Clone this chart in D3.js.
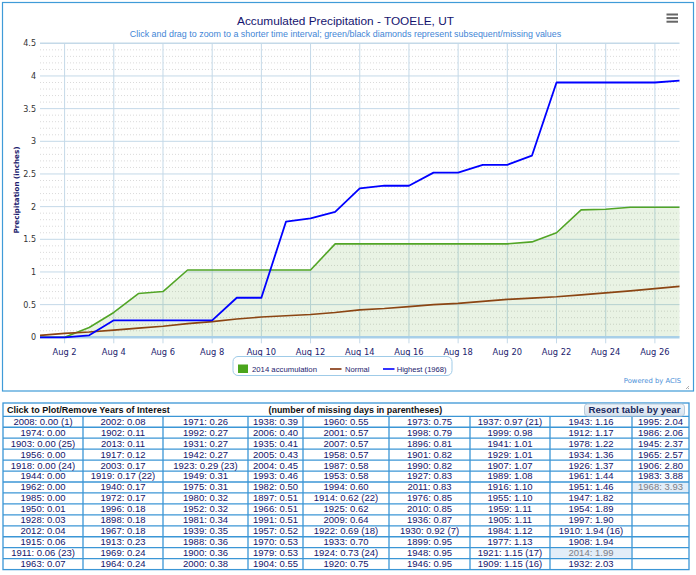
<!DOCTYPE html>
<html><head><meta charset="utf-8">
<script src="https://cdn.jsdelivr.net/npm/d3@7"></script>
<style>
html,body{margin:0;padding:0;background:#fff;}
svg{display:block;}
</style></head>
<body>
<svg id="c" width="696" height="575"></svg>
<script>
// ---------- data ----------
const days = [1,2,3,4,5,6,7,8,9,10,11,12,13,14,15,16,17,18,19,20,21,22,23,24,25,26,27];
const acc2014 = [0,0,0.15,0.38,0.67,0.70,1.03,1.03,1.03,1.03,1.03,1.03,1.43,1.43,1.43,1.43,1.43,1.43,1.43,1.43,1.46,1.60,1.95,1.96,1.99,1.99,1.99];
const normal = [0.03,0.06,0.08,0.11,0.14,0.17,0.21,0.24,0.28,0.31,0.33,0.35,0.38,0.42,0.44,0.47,0.50,0.52,0.55,0.58,0.60,0.62,0.65,0.68,0.71,0.745,0.78];
const highest1968 = [0,0,0.03,0.26,0.26,0.26,0.26,0.26,0.605,0.605,1.77,1.82,1.92,2.28,2.32,2.32,2.52,2.52,2.64,2.64,2.78,3.90,3.90,3.90,3.90,3.90,3.93];
const xTickDays = [2,4,6,8,10,12,14,16,18,20,22,24,26];
const yTicks = [0,0.5,1,1.5,2,2.5,3,3.5,4,4.5];
const legendLabels = ["2014 accumulation","Normal","Highest (1968)"];

const tableYears = [2008,1974,1903,1956,1918,1944,1962,1985,1950,1928,2012,1915,1911,1963,
2002,1902,2013,1917,2003,1919,1940,1972,1996,1898,1967,1913,1969,1964,
1971,1992,1931,1942,1923,1949,1975,1980,1952,1981,1939,1988,1900,2000,
1938,2006,1935,2005,2004,1993,1982,1897,1966,1991,1957,1970,1979,1904,
1960,2001,2007,1958,1987,1953,1994,1914,1925,2009,1922,1933,1924,1920,
1973,1998,1896,1901,1990,1927,2011,1976,2010,1936,1930,1899,1948,1946,
1937,1999,1941,1929,1907,1989,1916,1955,1959,1905,1984,1977,1921,1909,
1943,1912,1978,1934,1926,1961,1951,1947,1954,1997,1910,1908,2014,1932,
1995,1986,1945,1965,1906,1983,1968];
const tableTotals = [0.00,0.00,0.00,0.00,0.00,0.00,0.00,0.00,0.01,0.03,0.04,0.06,0.06,0.07,
0.08,0.11,0.11,0.12,0.17,0.17,0.17,0.17,0.18,0.18,0.18,0.23,0.24,0.24,
0.26,0.27,0.27,0.27,0.29,0.31,0.31,0.32,0.32,0.34,0.35,0.36,0.36,0.38,
0.39,0.40,0.41,0.43,0.45,0.46,0.50,0.51,0.51,0.51,0.52,0.53,0.53,0.55,
0.55,0.57,0.57,0.57,0.58,0.58,0.60,0.62,0.62,0.64,0.69,0.70,0.73,0.75,
0.75,0.79,0.81,0.82,0.82,0.83,0.83,0.85,0.85,0.87,0.92,0.95,0.95,0.95,
0.97,0.98,1.01,1.01,1.07,1.08,1.10,1.10,1.11,1.11,1.12,1.13,1.15,1.15,
1.16,1.17,1.22,1.36,1.37,1.44,1.46,1.82,1.89,1.90,1.94,1.94,1.99,2.03,
2.04,2.06,2.37,2.57,2.80,3.88,3.93];
const missingYears = [2008,1903,1918,1911,1919,1923,1914,1922,1924,1930,1937,1921,1909,1910];
const missingDays  = [1,25,24,23,22,23,22,18,24,7,21,17,16,16];
const highlightedYears = [2014,1968];

// ---------- chart ----------
const svg = d3.select("#c");
const FONT = "'DejaVu Sans', Verdana, sans-serif";
const NFONT = "'Liberation Sans', Arial, sans-serif";
const NAVY = "#1c1c6e";

function fit(sel, target){
  const n = sel.node(); const w = n.getComputedTextLength();
  const fs = parseFloat(sel.attr("font-size"));
  sel.attr("font-size", (fs*target/w).toFixed(2));
}

// chart frame
svg.append("rect").attr("x",2.5).attr("y",2.5).attr("width",691).attr("height",388.5)
  .attr("fill","#fff").attr("stroke","#3f9bd8").attr("stroke-width",1.2);

const x = d3.scaleLinear().domain([1,27]).range([40,679.5]);
const y = d3.scaleLinear().domain([0,4.5]).range([337.3,43.3]);

const g = svg.append("g");

// minor dotted grid
const minor = d3.range(1,45).map(i=>i/10).filter(v=>Math.abs(v*2-Math.round(v*2))>1e-6);
g.selectAll(".minor").data(minor).join("line")
  .attr("x1",x(1)).attr("x2",x(27)).attr("y1",d=>y(d)).attr("y2",d=>y(d))
  .attr("stroke","#dadada").attr("stroke-width",1).attr("stroke-dasharray","1,2");

// vertical grid + ticks
g.selectAll(".vg").data(xTickDays).join("line")
  .attr("x1",d=>x(d)).attr("x2",d=>x(d)).attr("y1",y(4.5)).attr("y2",y(0)+6)
  .attr("stroke","#c4d9e8").attr("stroke-width",1);

// horizontal major grid
g.selectAll(".hg").data(yTicks.filter(d=>d>0)).join("line")
  .attr("x1",x(1)).attr("x2",x(27)).attr("y1",d=>y(d)).attr("y2",d=>y(d))
  .attr("stroke","#c4d9e8").attr("stroke-width",d=>d===4.5?1.6:1);

// area 2014
const pts = i => days.map((d,k)=>[d, i[k]]);
g.append("path").datum(pts(acc2014))
  .attr("d", d3.area().x(d=>x(d[0])).y0(y(0)).y1(d=>y(d[1])))
  .attr("fill","rgba(86,160,44,0.13)");

// baseline
g.append("line").attr("x1",x(1)).attr("x2",x(27)).attr("y1",y(0)).attr("y2",y(0))
  .attr("stroke","#a8cfe8").attr("stroke-width",2.5);

const line = d3.line().x(d=>x(d[0])).y(d=>y(d[1]));
g.append("path").datum(pts(acc2014)).attr("d",line).attr("fill","none")
  .attr("stroke","#52a526").attr("stroke-width",1.6).attr("stroke-linejoin","round");
g.append("path").datum(pts(normal)).attr("d",line).attr("fill","none")
  .attr("stroke","#8b4513").attr("stroke-width",1.6);
g.append("path").datum(pts(highest1968)).attr("d",line).attr("fill","none")
  .attr("stroke","#0000ff").attr("stroke-width",1.8).attr("stroke-linejoin","round");

// y tick labels
g.selectAll(".yl").data(yTicks).join("text")
  .attr("x",36).attr("y",d=>y(d)+3).attr("text-anchor","end")
  .attr("font-family",FONT).attr("font-size",8).attr("fill","#333")
  .text(d=>d);

// x tick labels
g.selectAll(".xl").data(xTickDays).join("text")
  .attr("x",d=>x(d)).attr("y",355).attr("text-anchor","middle")
  .attr("font-family",FONT).attr("font-size",8.3).attr("fill",NAVY)
  .text(d=>"Aug "+d);

// y axis title
const yt = svg.append("text").attr("transform","translate(19,190) rotate(-90)")
  .attr("text-anchor","middle").attr("font-family",FONT).attr("font-weight","bold")
  .attr("font-size",8.5).attr("fill",NAVY).text("Precipitation (inches)");
fit(yt, 87);

// title & subtitle
const tt = svg.append("text").attr("x",345.5).attr("y",25).attr("text-anchor","middle")
  .attr("font-family",NFONT).attr("font-size",12).attr("fill","#14146e")
  .text("Accumulated Precipitation - TOOELE, UT");
fit(tt, 217);
const st = svg.append("text").attr("x",345.5).attr("y",37).attr("text-anchor","middle")
  .attr("font-family",NFONT).attr("font-size",8.5).attr("fill","#3f86d6")
  .text("Click and drag to zoom to a shorter time interval; green/black diamonds represent subsequent/missing values");
fit(st, 432);

// hamburger
[0,1,2].forEach(i=>svg.append("rect").attr("x",666.5).attr("y",13.5+i*3.6).attr("width",11.5).attr("height",2)
  .attr("fill","#666"));

// legend
const lg = svg.append("g");
lg.append("rect").attr("x",233).attr("y",356.5).attr("width",219).attr("height",19).attr("rx",5)
  .attr("fill","#fff").attr("stroke","#9fcbe8").attr("stroke-width",1);
const legendItems = [
  {label:legendLabels[0], sx:238, tx:252, w:65, type:"rect", color:"#4aa51c"},
  {label:legendLabels[1], sx:330, tx:345, w:24.5, type:"line", color:"#9a5a3a"},
  {label:legendLabels[2], sx:383, tx:396.7, w:50, type:"line", color:"#3333ff"}
];
legendItems.forEach(it=>{
  if(it.type==="rect") lg.append("rect").attr("x",it.sx).attr("y",364.5).attr("width",10).attr("height",8.5).attr("fill",it.color);
  else lg.append("line").attr("x1",it.sx).attr("x2",it.sx+11.5).attr("y1",369).attr("y2",369).attr("stroke",it.color).attr("stroke-width",2);
  const t = lg.append("text").attr("x",it.tx).attr("y",372.3).attr("font-family",NFONT).attr("font-size",8.5)
    .attr("fill",NAVY).text(it.label);
  fit(t, it.w);
});

svg.append("text").attr("x",681).attr("y",383).attr("text-anchor","end").attr("font-family",FONT)
  .attr("font-size",6.8).attr("fill","#4a8fd8").text("Powered by ACIS");
// resize grip
[[686,389,689,386],[688,389,689,388]].forEach(c=>svg.append("line").attr("x1",c[0]).attr("y1",c[1]).attr("x2",c[2]).attr("y2",c[3]).attr("stroke","#999").attr("stroke-width",0.8));

// ---------- table ----------
const TF = "'Liberation Sans', Arial, Helvetica, sans-serif";
const T = svg.append("g");
const colX = [3,83,163,248,303,389,470,550,632,689];
const tTop = 403, hBot = 416.3, rowH = 10.95, nRows = 14;
const tBot = hBot + rowH*nRows;
const BLUE = "#3b96d6";

const cells = tableYears.map((yr,i)=>{
  const mi = missingYears.indexOf(yr);
  return {col: Math.floor(i/nRows), row: i%nRows, yr,
    label: yr+": "+tableTotals[i].toFixed(2)+(mi>=0?" ("+missingDays[mi]+")":""),
    hi: highlightedYears.includes(yr)};
});

// highlighted backgrounds
T.selectAll(".hb").data(cells.filter(c=>c.hi)).join("rect")
  .attr("x",c=>colX[c.col]+1).attr("y",c=>hBot+c.row*rowH+0.8)
  .attr("width",c=>colX[c.col+1]-colX[c.col]-2).attr("height",rowH-1.6)
  .attr("fill","#e2edf8");

// grid lines
T.append("rect").attr("x",colX[0]).attr("y",tTop).attr("width",colX[9]-colX[0]).attr("height",tBot-tTop)
  .attr("fill","none").attr("stroke",BLUE).attr("stroke-width",1.3);
T.selectAll(".hr").data(d3.range(0,nRows)).join("line")
  .attr("x1",colX[0]).attr("x2",colX[9]).attr("y1",r=>hBot+r*rowH).attr("y2",r=>hBot+r*rowH)
  .attr("stroke",BLUE).attr("stroke-width",1.3);
T.selectAll(".vr").data(colX.slice(1,9)).join("line")
  .attr("x1",d=>d).attr("x2",d=>d).attr("y1",hBot).attr("y2",tBot)
  .attr("stroke",BLUE).attr("stroke-width",1.3);

// cell text
T.selectAll(".ct").data(cells).join("text")
  .attr("x",c=>(colX[c.col]+colX[c.col+1])/2).attr("y",c=>hBot+c.row*rowH+8.4)
  .attr("text-anchor","middle").attr("font-family",TF).attr("font-size",9.5)
  .attr("fill",c=>c.hi?"#7d7d86":"#14146a").text(c=>c.label);

// header
const h1 = T.append("text").attr("x",7).attr("y",413).attr("font-family",TF).attr("font-weight","bold")
  .attr("font-size",9.5).attr("fill","#111").text("Click to Plot/Remove Years of Interest");
fit(h1,163);
const h2 = T.append("text").attr("x",268.5).attr("y",413).attr("font-family",TF).attr("font-weight","bold")
  .attr("font-size",9.5).attr("fill","#111").text("(number of missing days in parentheses)");
fit(h2,174);
const defs = svg.append("defs");
const gr = defs.append("linearGradient").attr("id","btn").attr("x1",0).attr("x2",0).attr("y1",0).attr("y2",1);
gr.append("stop").attr("offset","0").attr("stop-color","#eef3f9");
gr.append("stop").attr("offset","1").attr("stop-color","#d5e1ee");
T.append("rect").attr("x",584.5).attr("y",404).attr("width",100).attr("height",12).attr("rx",3)
  .attr("fill","url(#btn)").attr("stroke","#b9cadb");
const bt = T.append("text").attr("x",634.5).attr("y",413.2).attr("text-anchor","middle").attr("font-family",TF)
  .attr("font-weight","bold").attr("font-size",9.5).attr("fill","#1a2a5e").text("Resort table by year");
fit(bt,92);
</script>
</body></html>
